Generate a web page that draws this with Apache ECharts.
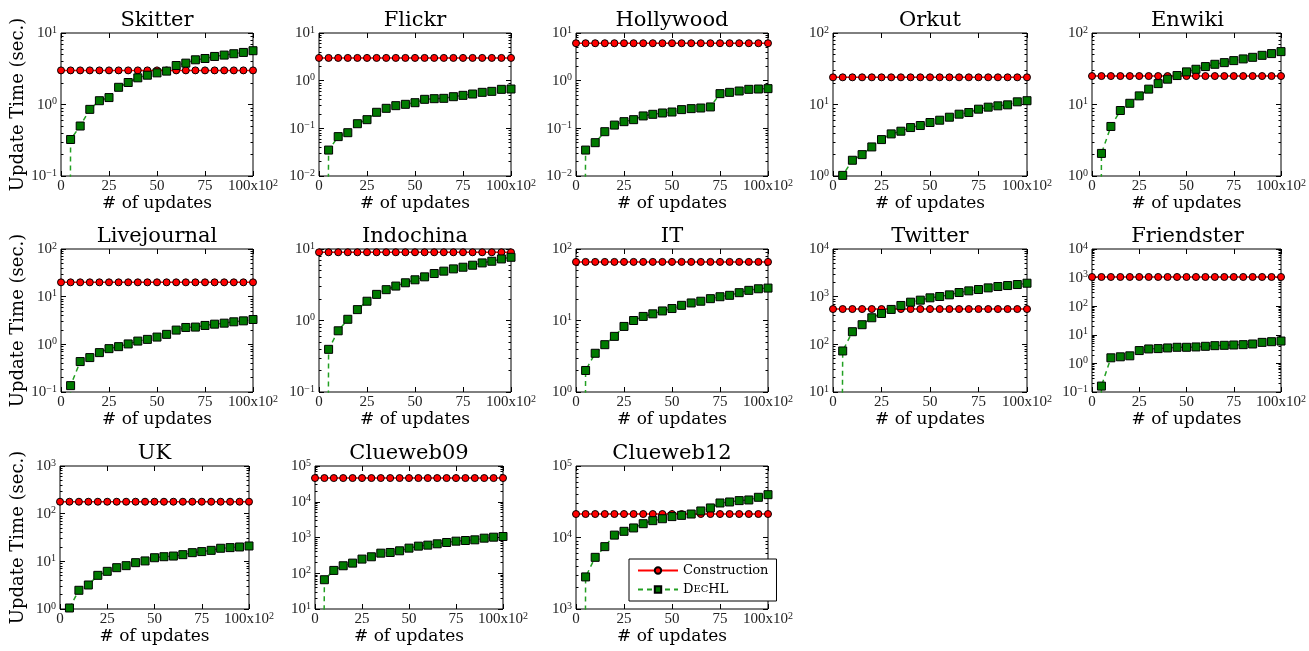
<!DOCTYPE html>
<html><head><meta charset="utf-8">
<script src="https://cdn.jsdelivr.net/npm/echarts@6/dist/echarts.min.js"></script>
<style>html,body{margin:0;padding:0;background:#fff}#c{width:1309px;height:651px}</style>
</head><body><div id="c"></div>
<script>
// ---------------- data ----------------
const xUpdates = [0,5,10,15,20,25,30,35,40,45,50,55,60,65,70,75,80,85,90,95,100];
const graphNames = ['Skitter','Flickr','Hollywood','Orkut','Enwiki','Livejournal','Indochina','IT','Twitter','Friendster','UK','Clueweb09','Clueweb12'];
const constructionTime = [3.0, 3.0, 6.1, 24, 25, 20, 9.0, 66, 550, 1050, 178, 46000, 21300];
// DecHL update time (sec.), first value is at 0 updates
const dechlSkitter     = [0,0.324,0.50,0.855,1.13,1.25,1.74,2.03,2.36,2.57,2.77,2.93,3.51,3.79,4.22,4.40,4.70,4.91,5.13,5.35,5.65];
const dechlFlickr      = [0,0.035,0.067,0.081,0.125,0.152,0.217,0.263,0.299,0.319,0.345,0.406,0.419,0.426,0.461,0.492,0.525,0.569,0.597,0.658,0.668];
const dechlHollywood   = [0,0.035,0.050,0.085,0.117,0.138,0.152,0.182,0.197,0.210,0.220,0.247,0.259,0.267,0.281,0.534,0.569,0.607,0.658,0.668,0.68];
const dechlOrkut       = [0,1.02,1.66,1.99,2.55,3.23,3.88,4.23,4.76,5.08,5.60,6.03,6.64,7.32,7.72,8.60,9.18,9.58,9.89,10.9,11.3];
const dechlEnwiki      = [0,2.07,4.93,8.24,10.4,13.2,16.4,19.6,22.6,25.4,28.6,31.1,33.9,36.5,38.5,41.1,43.4,45.7,48.7,51.5,54.9];
const dechlLivejournal = [0,0.136,0.435,0.527,0.670,0.812,0.894,1.02,1.17,1.27,1.42,1.62,1.99,2.26,2.30,2.49,2.65,2.78,2.97,3.11,3.32];
const dechlIndochina   = [0,0.395,0.718,1.04,1.42,1.86,2.32,2.70,3.03,3.37,3.71,4.08,4.54,4.90,5.27,5.56,5.93,6.39,6.74,7.26,7.66];
const dechlIT          = [0,2.0,3.48,4.59,6.00,8.26,10.0,11.4,12.4,13.6,14.7,16.3,17.6,18.6,20.2,21.5,22.5,24.5,26.4,27.8,28.4];
const dechlTwitter     = [0,72.6,184,258,361,444,540,654,767,845,946,1008,1092,1222,1324,1412,1530,1632,1711,1796,1915];
const dechlFriendster  = [0,0.161,1.57,1.70,1.84,2.81,3.20,3.29,3.47,3.66,3.66,3.76,3.96,4.17,4.29,4.40,4.52,4.77,5.44,5.74,6.05];
const dechlUK          = [0,1.05,2.47,3.19,5.08,6.17,7.36,8.11,9.37,10.2,11.9,12.5,12.9,13.8,15.2,16.0,17.0,18.8,19.4,20.0,21.0];
const dechlClueweb09   = [0,65.9,120,162,192,249,289,365,381,425,504,573,611,666,725,790,824,861,958,1021,1066];
const dechlClueweb12   = [0,2810,5280,7450,10800,12200,13600,15600,17200,18300,19600,20400,21300,23500,25900,30400,31400,32800,33500,36500,39700];
const dechlSeries = [dechlSkitter,dechlFlickr,dechlHollywood,dechlOrkut,dechlEnwiki,dechlLivejournal,dechlIndochina,dechlIT,dechlTwitter,dechlFriendster,dechlUK,dechlClueweb09,dechlClueweb12];
// y-axis decades (exponents of 10)
const yMinExp = [-1,-2,-2,0,0,-1,-1,0,1,-1,0,1,3];
const yMaxExp = [ 1, 1, 1,2,2, 2, 1,2,4, 4,3,5,5];
const xTickValues = [0,25,50,75,100];
const xTickLabels = ['0','25','50','75','100x10'];
const xTickSuper  = ['','','','','2'];

// ---------------- layout ----------------
const rowTop = [33, 249, 466];
const colLeft = [[61,319,576,833,1092],[61,319,576,833,1092],[60,315,576]];
const colWidth = [[192,192,192,194,191],[192,192,192,194,191],[189,188,192]];
const plotH = 143;

const SERIF = 'DejaVu Serif';
const TICKF = 'Liberation Serif';
const tickRich = {
  b: {fontFamily: TICKF, fontSize: 15, color: '#222', lineHeight: 16, verticalAlign: 'bottom'},
  s: {fontFamily: TICKF, fontSize: 10, color: '#222', lineHeight: 9, verticalAlign: 'top'}
};
function expText(e){ return e < 0 ? '\u2212' + (-e) : String(e); }
function xLabel(v){
  const k = xTickValues.indexOf(v);
  if (k < 0) return '';
  return '{b|' + xTickLabels[k] + '}' + (xTickSuper[k] ? '{s|' + xTickSuper[k] + '}' : '');
}

const grids = [], xAxes = [], yAxes = [], series = [], titles = [];
graphNames.forEach((name, i) => {
  const r = Math.floor(i / 5), c = i % 5;
  const left = colLeft[r][c], width = colWidth[r][c], top = rowTop[r];
  grids.push({left: left, top: top, width: width, height: plotH, show: true,
    borderColor: '#000', borderWidth: 1, backgroundColor: 'transparent'});
  titles.push({text: name, left: left + width / 2, top: top - 23, textAlign: 'center', padding: 0,
    textStyle: {fontFamily: SERIF, fontSize: 21, fontWeight: 'normal', color: '#000'}});

  const majors = [], minors = [];
  for (let e = yMinExp[i]; e <= yMaxExp[i]; e++) {
    majors.push(Math.pow(10, e));
    if (e < yMaxExp[i]) for (let m = 2; m <= 9; m++) minors.push(m * Math.pow(10, e));
  }
  const ymin = Math.pow(10, yMinExp[i]), ymax = Math.pow(10, yMaxExp[i]);

  const xBase = {type: 'value', gridIndex: i, min: 0, max: 100, interval: 25,
    axisLine: {show: false}, splitLine: {show: false},
    axisTick: {show: true, inside: true, length: 5, lineStyle: {color: '#000', width: 1}}};
  xAxes.push(Object.assign({}, xBase, {position: 'bottom',
    axisLabel: {show: true, margin: 2, formatter: xLabel, rich: tickRich},
    name: '# of updates', nameLocation: 'middle', nameGap: 15,
    nameTextStyle: {fontFamily: SERIF, fontSize: 17, color: '#000'}}));
  xAxes.push(Object.assign({}, xBase, {position: 'top', axisLabel: {show: false}}));

  const yBase = {type: 'log', logBase: 10, gridIndex: i, min: ymin, max: ymax,
    axisLine: {show: false}, splitLine: {show: false}, axisLabel: {show: false}};
  const yMain = Object.assign({}, yBase, {position: 'left',
    axisTick: {show: true, inside: true, length: 5, customValues: majors, lineStyle: {color: '#000'}},
    axisLabel: {show: true, margin: 4, customValues: majors, rich: tickRich,
      formatter: v => '{b|10}{s|' + expText(Math.round(Math.log10(v))) + '}'}});
  if (c === 0) {
    yMain.name = 'Update Time (sec.)';
    yMain.nameLocation = 'middle';
    yMain.nameGap = 33;
    yMain.nameTextStyle = {fontFamily: SERIF, fontSize: 18, color: '#000'};
  }
  yAxes.push(yMain);
  yAxes.push(Object.assign({}, yBase, {position: 'left',
    axisTick: {show: true, inside: true, length: 2.5, customValues: minors, lineStyle: {color: '#000'}}}));
  yAxes.push(Object.assign({}, yBase, {position: 'right',
    axisTick: {show: true, inside: true, length: 5, customValues: majors, lineStyle: {color: '#000'}}}));
  yAxes.push(Object.assign({}, yBase, {position: 'right',
    axisTick: {show: true, inside: true, length: 2.5, customValues: minors, lineStyle: {color: '#000'}}}));

  series.push({type: 'line', name: 'Construction', xAxisIndex: 2 * i, yAxisIndex: 4 * i,
    data: xUpdates.map(x => [x, constructionTime[i]]),
    symbol: 'circle', symbolSize: 7, showAllSymbol: true, clip: true,
    lineStyle: {color: '#ff0000', width: 1.5},
    itemStyle: {color: '#ff0000', borderColor: '#000', borderWidth: 1}, z: 2});
  series.push({type: 'line', name: 'DecHL', xAxisIndex: 2 * i, yAxisIndex: 4 * i,
    data: xUpdates.map((x, k) => [x, dechlSeries[i][k] > 0 ? dechlSeries[i][k] : 1e-30]),
    symbol: 'rect', symbolSize: 8, showAllSymbol: true, clip: true,
    lineStyle: {color: '#22a022', width: 1.5, type: [5, 4]},
    itemStyle: {color: '#007a00', borderColor: '#000', borderWidth: 1}, z: 3});
});

const chart = echarts.init(document.getElementById('c'), null, {renderer: 'canvas'});
chart.setOption({
  animation: false,
  backgroundColor: '#fff',
  title: titles,
  grid: grids,
  xAxis: xAxes,
  yAxis: yAxes,
  legend: {
    data: ['Construction', 'DecHL'], left: 629, top: 559, orient: 'vertical',
    backgroundColor: '#fff', borderColor: '#000', borderWidth: 1, borderRadius: 0,
    padding: [5, 8, 5, 8], itemGap: 6, itemWidth: 40, itemHeight: 8,
    textStyle: {fontFamily: SERIF, fontSize: 13, color: '#000',
      rich: {sc: {fontFamily: SERIF, fontSize: 10, color: '#000'}}},
    formatter: n => n === 'DecHL' ? 'D{sc|EC}HL' : n
  },
  series: series
});
</script></body></html>
